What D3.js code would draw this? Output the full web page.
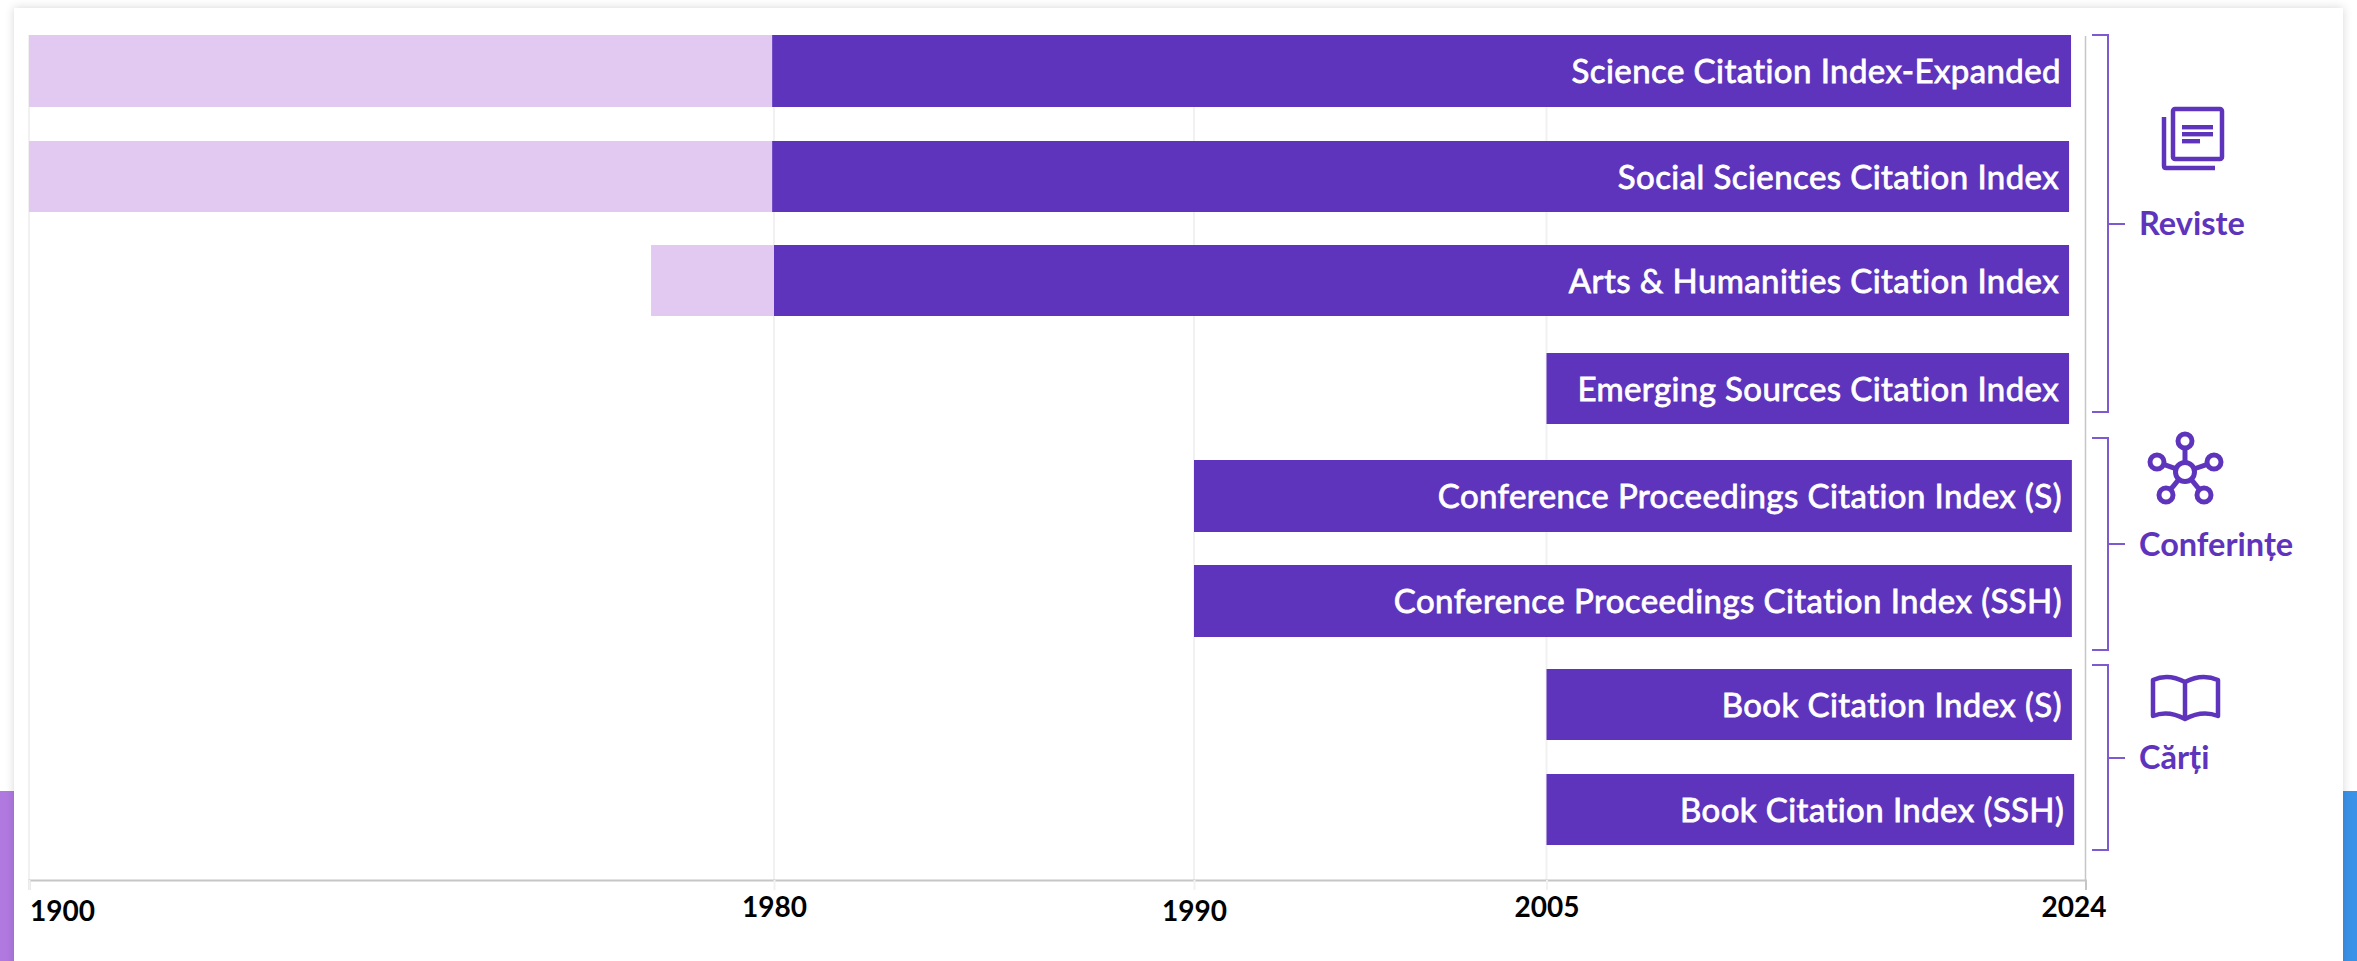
<!DOCTYPE html>
<html>
<head>
<meta charset="utf-8">
<script src="https://cdn.jsdelivr.net/npm/d3@7/dist/d3.min.js"></script>
<style>
  html, body { margin: 0; padding: 0; background: #fff; overflow: hidden; }
  svg { display: block; font-family: Lato, "Noto Sans", sans-serif; font-variant-ligatures: none; }
</style>
</head>
<body>
<div id="chart"></div>
<script>
// Data
const indexNames = [
    "Science Citation Index-Expanded",
    "Social Sciences Citation Index",
    "Arts & Humanities Citation Index",
    "Emerging Sources Citation Index",
    "Conference Proceedings Citation Index (S)",
    "Conference Proceedings Citation Index (SSH)",
    "Book Citation Index (S)",
    "Book Citation Index (SSH)"
];
const backfileStart = [1900, 1900, 1966.8, null, null, null, null, null];
const coverageStart = [1979.8, 1979.8, 1980, 2005, 1990, 1990, 2005, 2005];
const coverageEnd = [2023.49, 2023.42, 2023.42, 2023.42, 2023.52, 2023.52, 2023.52, 2023.6];
const tickYears = [1900, 1980, 1990, 2005, 2024];
const groupNames = ["Reviste", "Conferințe", "Cărți"];

// The time axis of the original is not linear, every tick has its own stop
const xStops = [29, 774, 1194, 1546.5, 2085.5];
const rowTops = [35, 141, 245, 353, 460, 565, 669, 774];
const rowHeights = [72, 71, 71, 71, 72, 72, 71, 71];

const width = 2357, height = 961;
const axisY = 880;
const purple = "#5e34bd", lilac = "#e1c9f1", bracketColor = "#7d5ad0", gridColor = "#f1f1f1";

const x = d3.scaleLinear().domain(tickYears).range(xStops);
const yTop = d3.scaleOrdinal().domain(indexNames).range(rowTops);
const yHeight = d3.scaleOrdinal().domain(indexNames).range(rowHeights);

const svg = d3.select("#chart").append("svg").attr("width", width).attr("height", height);

// Page behind the card
const defs = svg.append("defs");
const shadow = defs.append("filter").attr("id", "cardShadow")
    .attr("x", "-2%").attr("y", "-5%").attr("width", "104%").attr("height", "110%");
shadow.append("feDropShadow").attr("dx", 0).attr("dy", 0).attr("stdDeviation", 5)
    .attr("flood-color", "#000").attr("flood-opacity", 0.16);

svg.append("rect").attr("x", 0).attr("y", 791).attr("width", 14).attr("height", 170).attr("fill", "#b079e0");
svg.append("rect").attr("x", 2343).attr("y", 791).attr("width", 14).attr("height", 170).attr("fill", "#3a93e9");
svg.append("rect").attr("x", 14).attr("y", 8).attr("width", 2329).attr("height", 1000)
    .attr("fill", "#fff").attr("filter", "url(#cardShadow)");

// Grid lines, behind the bars
svg.selectAll("line.grid").data(tickYears.slice(0, -1)).join("line")
    .attr("class", "grid")
    .attr("x1", d => x(d)).attr("x2", d => x(d))
    .attr("y1", 35).attr("y2", axisY)
    .attr("stroke", gridColor).attr("stroke-width", 2);
svg.append("line")
    .attr("x1", x(2024)).attr("x2", x(2024)).attr("y1", 36).attr("y2", axisY)
    .attr("stroke", "#c6c6c6").attr("stroke-width", 1.5);

// Bars
const rows = indexNames.map((name, i) => ({
    name, back: backfileStart[i], start: coverageStart[i], end: coverageEnd[i]
}));

svg.selectAll("rect.back").data(rows.filter(d => d.back !== null)).join("rect")
    .attr("class", "back")
    .attr("x", d => x(d.back)).attr("width", d => x(d.start) - x(d.back))
    .attr("y", d => yTop(d.name)).attr("height", d => yHeight(d.name))
    .attr("fill", lilac);

svg.selectAll("rect.main").data(rows).join("rect")
    .attr("class", "main")
    .attr("x", d => x(d.start)).attr("width", d => x(d.end) - x(d.start))
    .attr("y", d => yTop(d.name)).attr("height", d => yHeight(d.name))
    .attr("fill", purple);

// Lato has no medium cut here, a thin stroke thickens the regular one
svg.selectAll("text.barLabel").data(rows).join("text")
    .attr("class", "barLabel")
    .attr("x", d => x(d.end) - 10)
    .attr("y", d => yTop(d.name) + yHeight(d.name) / 2 + 12)
    .attr("text-anchor", "end")
    .attr("fill", "#fff")
    .attr("stroke", "#fff")
    .attr("stroke-width", 0.8)
    .style("font-size", "33px")
    .style("letter-spacing", "0.42px")
    .text(d => d.name);

// X axis
const labelShift = { 1900: [33, 4], 1980: [0, 0], 1990: [0, 4], 2005: [0, 0], 2024: [-12, 0] };
const axis = d3.axisBottom(x).tickValues(tickYears).tickFormat(d3.format("d")).tickSize(10).tickPadding(8);
const axisG = svg.append("g").attr("transform", `translate(0,${axisY})`).call(axis);
axisG.select(".domain").attr("stroke", "#c6c6c6").attr("stroke-width", 2);
axisG.selectAll(".tick line").attr("stroke", gridColor).attr("stroke-width", 2);
axisG.selectAll(".tick").filter(d => d === 2024).select("line").remove();
axisG.selectAll(".tick text")
    .attr("fill", "#000")
    .style("font-family", "Lato, sans-serif")
    .style("font-size", "28px")
    .style("font-weight", 700)
    .attr("dx", d => labelShift[d][0])
    .attr("dy", d => labelShift[d][1] + 19);

// Group brackets
const bracketSpans = [[35, 412, 224], [438, 650, 544], [665, 850, 758]];
const labelBaselines = [235, 556, 769];
const bracketG = svg.append("g").attr("fill", "none").attr("stroke", bracketColor).attr("stroke-width", 2);
bracketSpans.forEach(([top, bottom, mid]) => {
    const p = d3.path();
    p.moveTo(2092, top); p.lineTo(2108, top); p.lineTo(2108, bottom); p.lineTo(2092, bottom);
    p.moveTo(2108, mid); p.lineTo(2125, mid);
    bracketG.append("path").attr("d", p.toString());
});
svg.selectAll("text.group").data(groupNames).join("text")
    .attr("class", "group")
    .attr("x", 2139)
    .attr("y", (d, i) => labelBaselines[i])
    .attr("fill", purple)
    .style("font-size", "32.5px")
    .style("font-weight", 700)
    .text(d => d);

// Icons
const icon = svg.append("g").attr("fill", "none").attr("stroke", purple).attr("stroke-width", 4.5)
    .attr("stroke-linejoin", "round");

// Reviste: stacked pages
icon.append("rect").attr("x", 2173).attr("y", 109).attr("width", 49).attr("height", 50).attr("rx", 2);
icon.append("path").attr("d", "M2164 117V166Q2164 168 2166 168H2215");
icon.append("g").attr("fill", purple).attr("stroke", "none").selectAll("rect")
    .data([[125, 31], [132, 31], [139, 18]]).join("rect")
    .attr("x", 2182).attr("y", d => d[0]).attr("width", d => d[1]).attr("height", 4.4);

// Conferinte: hub with five nodes
const hub = [2185, 472];
const nodes = [[2185, 441], [2157, 462], [2214, 462], [2166, 495], [2204, 495]];
const network = icon.append("g").attr("stroke-width", 5);
nodes.forEach(n => {
    const a = Math.atan2(n[1] - hub[1], n[0] - hub[0]);
    network.append("line")
        .attr("x1", hub[0] + 10 * Math.cos(a)).attr("y1", hub[1] + 10 * Math.sin(a))
        .attr("x2", n[0] - 7 * Math.cos(a)).attr("y2", n[1] - 7 * Math.sin(a));
});
network.append("circle").attr("cx", hub[0]).attr("cy", hub[1]).attr("r", 9.5);
network.selectAll("circle.node").data(nodes).join("circle")
    .attr("class", "node").attr("cx", d => d[0]).attr("cy", d => d[1]).attr("r", 7);

// Carti: open book
icon.append("path").attr("d",
    "M2185 682Q2168 673 2153 680V716Q2168 710 2185 719Q2202 710 2218 716V680Q2202 673 2185 682Z M2185 682V719");
</script>
</body>
</html>
